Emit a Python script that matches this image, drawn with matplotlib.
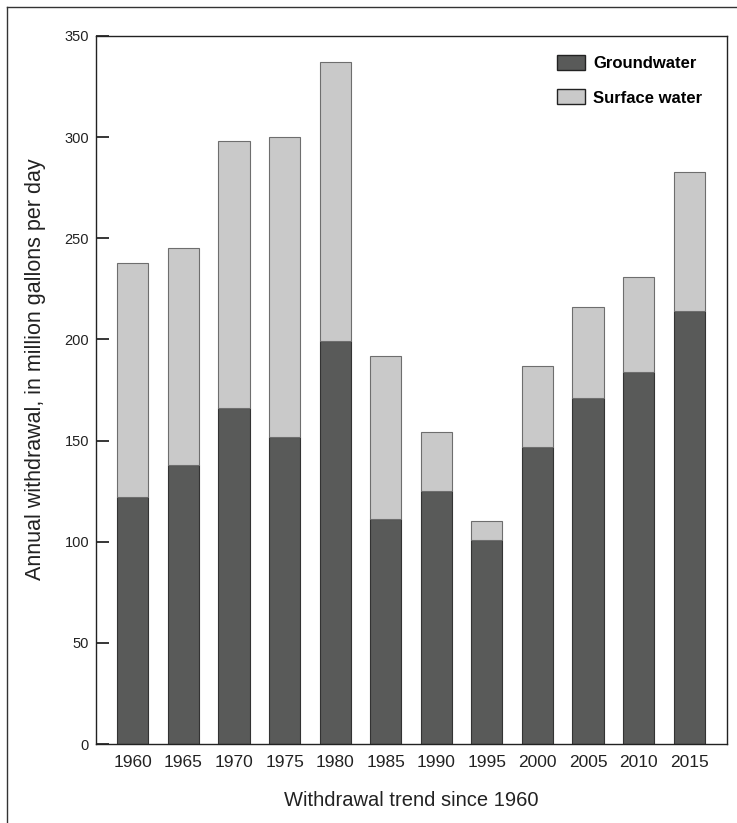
import numpy as np
import matplotlib
matplotlib.use("Agg")
import matplotlib.pyplot as plt
from matplotlib.patches import Patch
from matplotlib.lines import Line2D

# Data (million gallons per day)
years = ["1960", "1965", "1970", "1975", "1980", "1985",
         "1990", "1995", "2000", "2005", "2010", "2015"]
groundwater = [122, 138, 166, 152, 199, 111, 125, 101, 147, 171, 184, 214]
surface_water = [116, 107, 132, 148, 138, 81, 29, 9, 40, 45, 47, 69]

ground_color = "#595a59"
surface_color = "#c9c9c9"
text_color = "#222222"
plt.rcParams["font.family"] = ["Liberation Sans", "DejaVu Sans"]

fig = plt.figure(figsize=(7.37, 8.23), dpi=100)
ax = fig.add_axes([96 / 737, 1 - 744 / 823, 631 / 737, 708 / 823])

x = np.arange(len(years))
ax.bar(x, groundwater, width=0.615, color=ground_color,
       edgecolor="#333333", linewidth=0.8)
ax.bar(x, surface_water, width=0.615, bottom=groundwater, color=surface_color,
       edgecolor="#6e6e6e", linewidth=0.8)

ax.set_xlim(-0.73, 11.75)
ax.set_ylim(0, 350)
ax.set_yticks(range(0, 351, 50))
ax.set_xticks(x)
ax.set_xticklabels(years, fontsize=12.5, color=text_color)
ax.tick_params(axis="x", length=0, pad=8)
ax.tick_params(axis="y", direction="in", length=9.5, width=1.1, pad=5,
               labelsize=10.5, labelcolor=text_color)

for s in ax.spines.values():
    s.set_linewidth(1.0)
    s.set_color(text_color)

ax.set_ylabel("Annual withdrawal, in million gallons per day",
              fontsize=15.5, color=text_color)
ax.yaxis.set_label_coords(-0.079, 0.53)
ax.set_xlabel("Withdrawal trend since 1960", fontsize=14.5, color=text_color)
ax.xaxis.set_label_coords(0.5, -0.066)

handles = [Patch(facecolor=ground_color, edgecolor=text_color, linewidth=1.0),
           Patch(facecolor=surface_color, edgecolor=text_color, linewidth=1.0)]
ax.legend(handles, ["Groundwater", "Surface water"], loc="upper left",
          bbox_to_anchor=(557 / 737, 1 - 55 / 823),
          bbox_transform=fig.transFigure, frameon=False, borderpad=0,
          borderaxespad=0, handlelength=1.68, handleheight=1.0,
          handletextpad=0.48, labelspacing=1.1,
          prop={"weight": "bold", "size": 12})

# frame lines at top and left of the figure
fig.add_artist(Line2D([7 / 737, 1], [1 - 7 / 823] * 2, color="#333333", lw=1.0))
fig.add_artist(Line2D([7 / 737] * 2, [0, 1 - 7 / 823], color="#333333", lw=1.0))

fig.savefig("out.png", dpi=100)
